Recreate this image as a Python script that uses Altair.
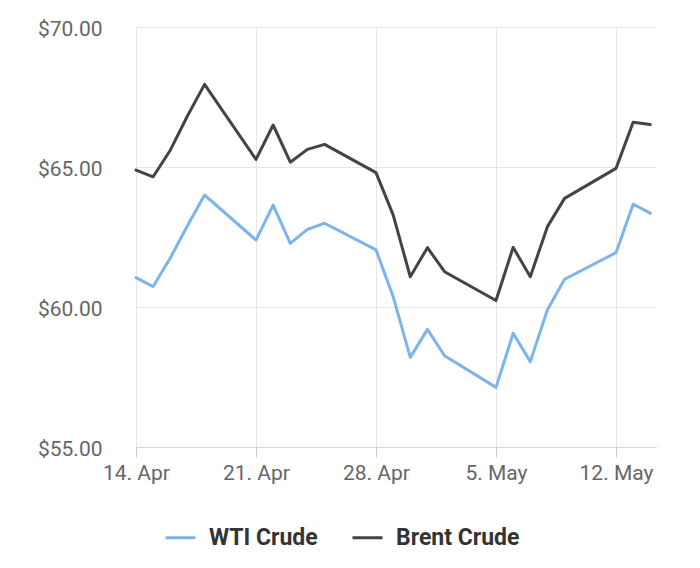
import altair as alt
import pandas as pd

dates = ["2025-04-14", "2025-04-15", "2025-04-16", "2025-04-17", "2025-04-18",
         "2025-04-21", "2025-04-22", "2025-04-23", "2025-04-24", "2025-04-25",
         "2025-04-28", "2025-04-29", "2025-04-30", "2025-05-01", "2025-05-02",
         "2025-05-05", "2025-05-06", "2025-05-07", "2025-05-08", "2025-05-09",
         "2025-05-12", "2025-05-13", "2025-05-14"]
wti = [61.05, 60.73, 61.75, 62.90, 64.00,
       62.39, 63.64, 62.27, 62.77, 62.99,
       62.04, 60.37, 58.20, 59.20, 58.26,
       57.13, 59.06, 58.05, 59.90, 60.99,
       61.94, 63.67, 63.35]
brent = [64.89, 64.65, 65.60, 66.82, 67.95,
         65.27, 66.50, 65.17, 65.63, 65.81,
         64.80, 63.29, 61.08, 62.12, 61.26,
         60.23, 62.13, 61.08, 62.87, 63.88,
         64.95, 66.60, 66.52]
series_names = ["WTI Crude", "Brent Crude"]
series_colors = ["#7cb5ec", "#434348"]
week_ticks = [(4, 14), (4, 21), (4, 28), (5, 5), (5, 12)]
y_ticks = [55, 60, 65, 70]

rows = []
for name, vals in zip(series_names, [wti, brent]):
    for d, v in zip(dates, vals):
        rows.append({"date": d + "T00:00:00", "price": v, "series": name})
df = pd.DataFrame(rows)

FONT = "Roboto"

chart = alt.Chart(df).mark_line(strokeWidth=3, strokeJoin="round", strokeCap="round").encode(
    x=alt.X("date:T",
            scale=alt.Scale(domain=[alt.DateTime(year=2025, month=4, date=14),
                                    alt.DateTime(year=2025, month=5, date=14, hours=8)]),
            axis=alt.Axis(title=None, format="%-d. %b",
                          values=[alt.DateTime(year=2025, month=m, date=d) for m, d in week_ticks],
                          grid=True, gridColor="#e6e6e6", gridWidth=1,
                          domainColor="#ccd6eb", domainWidth=1,
                          tickColor="#cccccc", tickSize=10, tickWidth=1,
                          labelFont=FONT, labelFontSize=21, labelColor="#666666",
                          labelPadding=5, labelFlush=False)),
    y=alt.Y("price:Q",
            scale=alt.Scale(domain=[55, 70], nice=False, zero=False),
            axis=alt.Axis(title=None, format="$.2f", values=y_ticks,
                          grid=True, gridColor="#e6e6e6", gridWidth=1,
                          domain=False, ticks=False,
                          labelFont=FONT, labelFontSize=21, labelColor="#666666",
                          labelPadding=34, labelOffset=2)),
    color=alt.Color("series:N",
                    scale=alt.Scale(domain=series_names, range=series_colors),
                    legend=alt.Legend(title=None, orient="none", direction="horizontal",
                                      legendX=28, legendY=494,
                                      symbolType="stroke", symbolSize=900,
                                      symbolStrokeWidth=3,
                                      labelFont=FONT, labelFontSize=23,
                                      labelFontWeight="bold", labelColor="#333333",
                                      labelOffset=12, columnPadding=28, padding=0))
).properties(
    width=520, height=420,
    padding={"left": 128, "top": 19, "right": 36, "bottom": 113},
    autosize=alt.AutoSizeParams(type="none")
).configure_view(stroke=None)

chart.save("out.html", embed_options={"renderer": "svg", "actions": False})
